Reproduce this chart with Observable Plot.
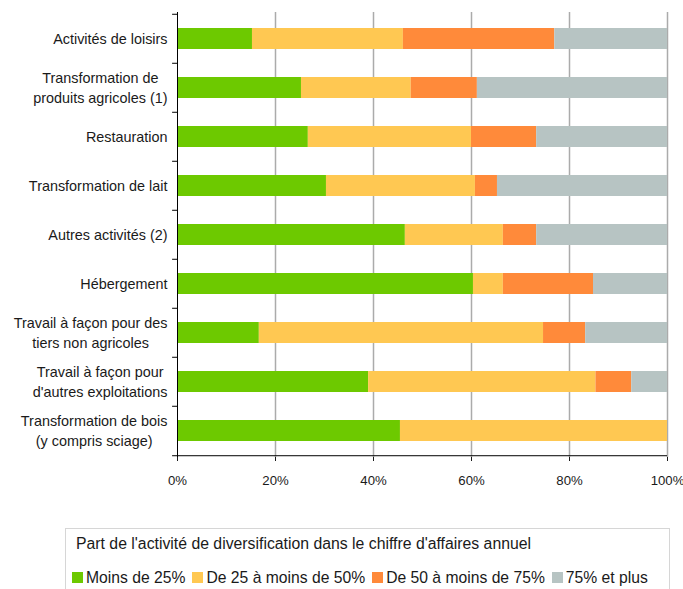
<!DOCTYPE html>
<html lang="fr">
<head>
<meta charset="utf-8">
<script src="https://cdn.jsdelivr.net/npm/d3@7"></script>
<script src="https://cdn.jsdelivr.net/npm/@observablehq/plot@0.6"></script>
<style>
  html, body { margin: 0; padding: 0; background: #fff; }
  body { font-family: "Liberation Sans", Arial, sans-serif; color: #1a1a1a; }
  #wrap { position: relative; width: 683px; height: 589px; overflow: hidden; }
  #chart svg { display: block; }
  #legend {
    position: absolute; left: 65px; top: 528px; width: 605px; height: 80px;
    border: 1px solid #d6d6d6; box-sizing: border-box;
  }
  #legend-title {
    position: absolute; left: 10px; top: 7px; font-size: 15.8px; line-height: 16px; white-space: nowrap;
  }
  #legend-items {
    position: absolute; left: 6px; top: 41px; font-size: 15.7px; line-height: 16px; white-space: nowrap;
  }
  .item { display: inline-block; margin-right: 7px; }
  .swatch { display: inline-block; width: 11px; height: 11px; margin-right: 3px; vertical-align: baseline; }
</style>
</head>
<body>
<div id="wrap">
  <div id="chart"></div>
  <div id="legend">
    <div id="legend-title"></div>
    <div id="legend-items"></div>
  </div>
</div>
<script>
// Activités de diversification des exploitations, par part dans le chiffre d'affaires annuel (%)
const categories = [
  "Activités de loisirs",
  "Transformation de produits agricoles (1)",
  "Restauration",
  "Transformation de lait",
  "Autres activités (2)",
  "Hébergement",
  "Travail à façon pour des tiers non agricoles",
  "Travail à façon pour d'autres exploitations",
  "Transformation de bois (y compris sciage)"
];
const categoryLabels = [
  "Activités de loisirs",
  "Transformation de\nproduits agricoles (1)",
  "Restauration",
  "Transformation de lait",
  "Autres activités (2)",
  "Hébergement",
  "Travail à façon pour des\ntiers non agricoles",
  "Travail à façon pour\nd'autres exploitations",
  "Transformation de bois\n(y compris sciage)"
];
const series = ["Moins de 25%", "De 25 à moins de 50%", "De 50 à moins de 75%", "75% et plus"];
const seriesColors = ["#6dc900", "#ffc852", "#ff8a3a", "#b7c4c3"];

const moins25  = [15.3, 25.3, 26.7, 30.4, 46.5, 60.4, 16.7, 39.0, 45.5];
const de25a50  = [30.8, 22.4, 33.3, 30.4, 20.0,  6.1, 58.0, 46.4, 54.5];
const de50a75  = [30.9, 13.5, 13.3,  4.5,  6.8, 18.4,  8.6,  7.3,  0.0];
const plus75   = [23.0, 38.8, 26.7, 34.7, 26.7, 15.1, 16.7,  7.3,  0.0];
const seriesValues = [moins25, de25a50, de50a75, plus75];

const legendTitle = "Part de l'activité de diversification dans le chiffre d'affaires annuel";
const xTickValues = [0, 20, 40, 60, 80, 100];

// Long format table for the stacked bars
const rows = categories.flatMap((c, i) =>
  series.map((s, j) => ({category: c, series: s, value: seriesValues[j][i]}))
);

const W = 683, H = 500;
const mTop = 12, mBottom = 43, mLeft = 177, mRight = 16;
const step = (H - mTop - mBottom) / categories.length;
const fontFamily = '"Liberation Sans", Arial, sans-serif';
const yFont = 14.4;

// Multi-line category labels: lines centred on each other, block right-aligned to the axis
const ctx = document.createElement("canvas").getContext("2d");
ctx.font = `${yFont}px ${fontFamily}`;
const labelMarks = categories.map((c, i) => {
  const label = categoryLabels[i];
  const maxW = d3.max(label.split("\n"), s => ctx.measureText(s).width);
  return Plot.text([c], {
    x: () => 0, y: d => d, text: () => label,
    textAnchor: "middle", dx: -(10 + maxW / 2), dy: -1.5, lineHeight: 1.4,
    fontSize: yFont, fill: "#1a1a1a"
  });
});

const chart = Plot.plot({
  width: W, height: H,
  marginTop: mTop, marginBottom: mBottom, marginLeft: mLeft, marginRight: mRight,
  style: {fontFamily, fontSize: "13.2px", color: "#1a1a1a", background: "#fff", overflow: "visible"},
  x: {domain: [0, 100], ticks: xTickValues.length - 1, tickFormat: d => d + "%", tickSize: 4, tickPadding: 14, label: null},
  y: {domain: categories, paddingInner: 0.575, paddingOuter: 0.2875, axis: null},
  color: {domain: series, range: seriesColors},
  marks: [
    // vertical gridlines
    Plot.ruleX(xTickValues.slice(1), {stroke: "#ababab", strokeWidth: 1.5}),
    Plot.barX(rows, {x: "value", y: "category", fill: "series"}),
    // axis lines
    Plot.ruleX([0], {stroke: "#000", strokeWidth: 1}),
    Plot.ruleY([categories[categories.length - 1]], {x1: 0, x2: 100, dy: step / 2, stroke: "#000"}),
    // category boundary ticks on the y axis
    Plot.ruleY(categories, {x1: -1, x2: 0, dy: -step / 2, stroke: "#000"}),
    Plot.ruleY([categories[categories.length - 1]], {x1: -1, x2: 0, dy: step / 2, stroke: "#000"}),
    ...labelMarks
  ]
});
document.getElementById("chart").append(chart);

// Legend
document.getElementById("legend-title").textContent = legendTitle;
const items = d3.select("#legend-items");
series.forEach((s, i) => {
  const it = items.append("span").attr("class", "item");
  it.append("span").attr("class", "swatch").style("background", seriesColors[i]);
  it.append("span").text(s);
});
</script>
</body>
</html>
